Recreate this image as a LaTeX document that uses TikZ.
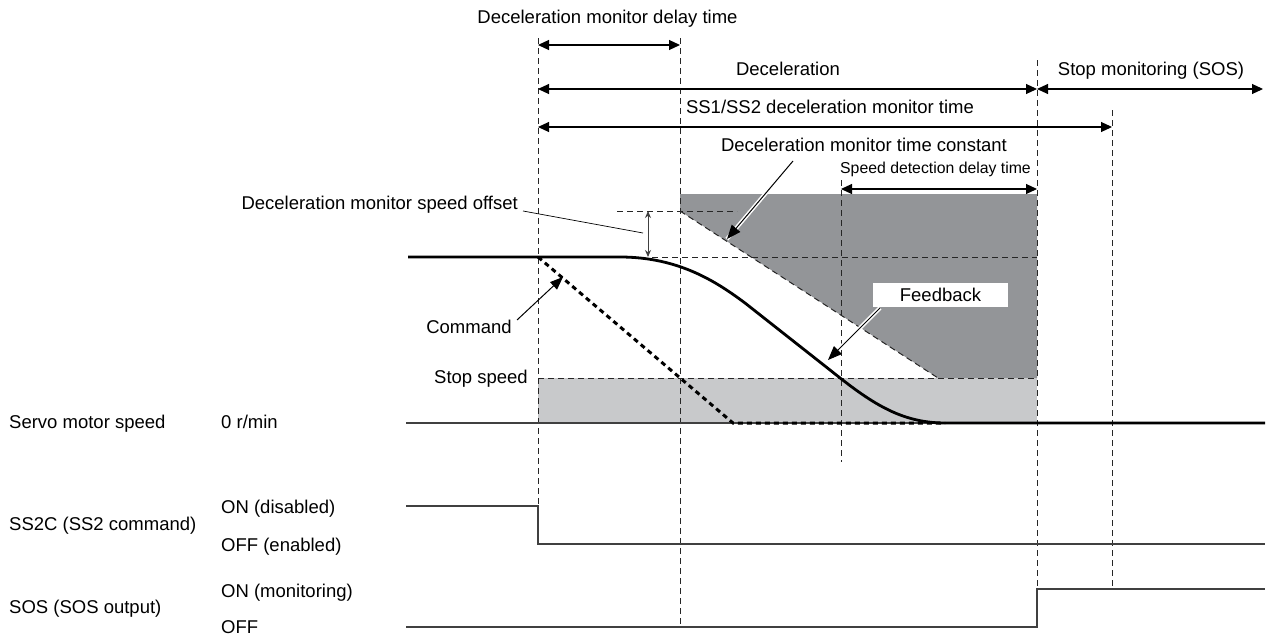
\documentclass[tikz,border=0pt]{standalone}
\usepackage{fontspec}
\setmainfont{Liberation Sans}
\usetikzlibrary{arrows.meta}
\definecolor{darkfill}{HTML}{939598}
\definecolor{lightfill}{HTML}{C8C9CB}
\definecolor{sigline}{HTML}{404040}
\begin{document}
\begin{tikzpicture}[x=1pt,y=-1pt,
  font=\fontsize{18.5}{20}\selectfont,
  lbl/.style={inner sep=0pt, text height=13.2pt, text depth=0pt},
  smalllbl/.style={inner sep=0pt, font=\fontsize{15.8}{18}\selectfont, text height=11.3pt, text depth=0pt},
  guide/.style={draw=black!85, line width=1pt, dash pattern=on 6pt off 4pt},
  hdash/.style={draw=black!85, line width=1pt, dash pattern=on 6pt off 4pt},
  dim/.style={draw=black, line width=1.1pt, {Triangle[length=11pt,width=10pt]}-{Triangle[length=11pt,width=10pt]}},
  sig/.style={draw=sigline, line width=1.3pt},
  fbk/.style={draw=black, line width=2.8pt},
  cmd/.style={draw=black, line width=3pt, dash pattern=on 5pt off 4pt},
  halo/.style={draw=white, line width=4pt},
  pointer/.style={draw=black, line width=1pt, -{Triangle[length=14pt,width=11pt]}}
]
\useasboundingbox (0,0) rectangle (1268,637);

% shaded regions
\fill[darkfill] (680,194) -- (1037,194) -- (1037,378) -- (938,378) -- (680,211) -- cycle;
\fill[lightfill] (538,378) rectangle (1037,423);

% named coordinates
\coordinate (g1t) at (538,38);   \coordinate (g1b) at (538,506);
\coordinate (g2t) at (680,38);   \coordinate (g2b) at (680,627);
\coordinate (g3t) at (841,180);  \coordinate (g3b) at (841,462);
\coordinate (g4t) at (1037,60);  \coordinate (g4b) at (1037,627);
\coordinate (g5t) at (1112,110); \coordinate (g5b) at (1112,589);

% vertical guides
\draw[guide] (g1t) -- (g1b);
\draw[guide] (g2t) -- (g2b);
\draw[guide] (g3t) -- (g3b);
\draw[guide] (g4t) -- (g4b);
\draw[guide] (g5t) -- (g5b);

% horizontal dashed references
\draw[hdash] (617,211) -- (737,211);
\draw[hdash] (652,257) -- (1037,257);
\draw[hdash] (538,378) -- (1037,378);
\draw[hdash] (680,211) -- (938,378);

% zero line
\draw[sig] (406,423) -- (1265,423);

% command (dashed thick)
\draw[cmd] (538,257) -- (733,423) -- (945,423);

% feedback
\draw[fbk] (408,257) -- (620,257) .. controls (680,257) and (718,283) .. (745,303)
  -- (830,370) .. controls (870,402) and (900,423) .. (945,423) -- (1265,423);

% dimension arrows
\draw[dim] (538,45) -- (680,45);
\draw[dim] (538,89) -- (1037,89);
\draw[dim] (1037,89) -- (1263,89);
\draw[dim] (538,127) -- (1112,127);
\draw[dim] (841,189) -- (1037,189);

% signals
\draw[sig] (406,506) -- (538,506) -- (538,544) -- (1265,544);
\draw[sig] (406,627) -- (1037,627) -- (1037,589) -- (1265,589);

% offset arrow
\draw[draw=sigline, line width=0.9pt, {Stealth[length=7pt,width=6pt]}-{Stealth[length=7pt,width=6pt]}] (648,211) -- (648,257);

% labels
\node[lbl] (tdelay) at (607.5,17) {Deceleration monitor delay time};
\node[lbl] (tdecel) at (788,69) {Deceleration};
\node[lbl] (tsos) at (1151,69) {Stop monitoring (SOS)};
\node[lbl] (tss) at (830,107) {SS1/SS2 deceleration monitor time};
\node[lbl] (ttc) at (864,145) {Deceleration monitor time constant};
\node[smalllbl] (tsd) at (935.5,168) {Speed detection delay time};
\node[lbl, anchor=east] (toff) at (518,203) {Deceleration monitor speed offset};
\node[lbl] (tcmd) at (469,327) {Command};
\node[lbl, anchor=east] (tstop) at (528,377) {Stop speed};
\node[fill=white, inner sep=0pt, minimum width=135pt, minimum height=24pt, text height=13.2pt, text depth=0pt] (tfb) at (940.5,295) {Feedback};

\node[lbl, anchor=west] (sms) at (9,422) {Servo motor speed};
\node[lbl, anchor=west] (zero) at (221,422) {0 r/min};
\node[lbl, anchor=west] (ss2c) at (9,524) {SS2C (SS2 command)};
\node[lbl, anchor=west] (ondis) at (221,507) {ON (disabled)};
\node[lbl, anchor=west] (offen) at (221,545) {OFF (enabled)};
\node[lbl, anchor=west] (sos) at (9,607) {SOS (SOS output)};
\node[lbl, anchor=west] (onmon) at (221,591) {ON (monitoring)};
\node[lbl, anchor=west] (offsos) at (221,627) {OFF};

% leader and pointer arrows
\coordinate (offend) at (643,233);
\draw[line width=0.7pt] ([xshift=5pt,yshift=-8pt]toff.east) -- (offend);

\coordinate (tcstart) at (793,161);
\coordinate (tctip) at (727,239);
\draw[halo] (tcstart) -- (tctip);
\draw[pointer] (tcstart) -- (tctip);

\coordinate (fbstart) at (880,308);
\coordinate (fbtip) at (828,360);
\draw[halo] (fbstart) -- (fbtip);
\draw[pointer] (fbstart) -- (fbtip);

\coordinate (cmdstart) at (517,320);
\coordinate (cmdtip) at (563,277);
\draw[draw=black, line width=1pt, -{Triangle[length=13pt,width=10pt]}] (cmdstart) -- (cmdtip);
\end{tikzpicture}
\end{document}
